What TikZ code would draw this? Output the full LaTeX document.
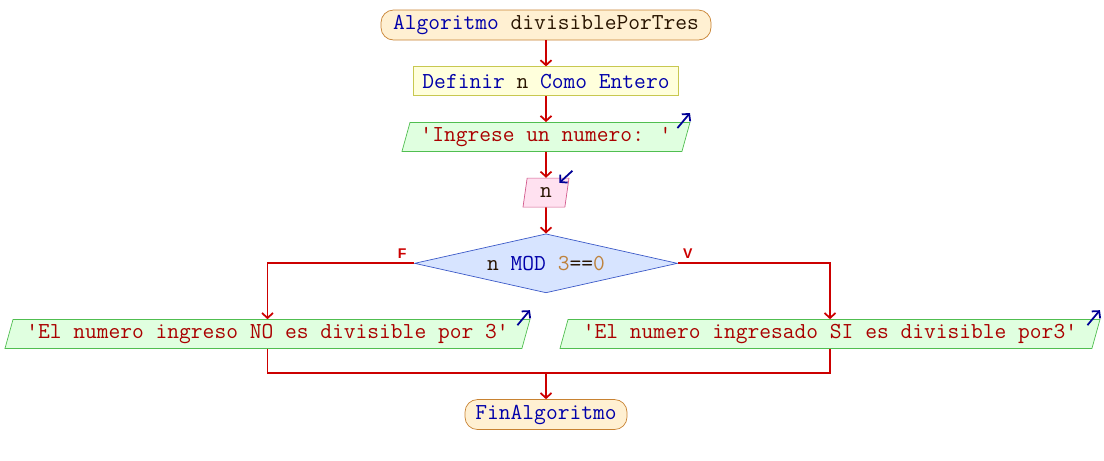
\documentclass[tikz,border=0pt]{standalone}
\usepackage{fontspec}
\newfontfamily\etiqfont{Liberation Sans}
\usetikzlibrary{calc,positioning,shapes,shapes.geometric,arrows.meta}

\definecolor{rojoflujo}{RGB}{204,0,0}
\definecolor{azulflecha}{RGB}{0,0,150}
\definecolor{clave}{RGB}{0,0,170}
\definecolor{cadena}{RGB}{170,0,0}
\definecolor{numero}{RGB}{190,130,60}
\definecolor{ident}{RGB}{40,20,0}
\definecolor{fondoini}{RGB}{255,240,210}
\definecolor{bordeini}{RGB}{200,130,50}
\definecolor{fondodef}{RGB}{255,255,220}
\definecolor{bordedef}{RGB}{200,200,80}
\definecolor{fondosal}{RGB}{224,255,224}
\definecolor{bordesal}{RGB}{80,190,80}
\definecolor{fondoent}{RGB}{255,225,240}
\definecolor{bordeent}{RGB}{210,90,140}
\definecolor{fondodec}{RGB}{215,228,255}
\definecolor{bordedec}{RGB}{60,90,200}

\newcommand{\kw}[1]{\textcolor{clave}{#1}}
\newcommand{\cad}[1]{\textcolor{cadena}{#1}}
\newcommand{\num}[1]{\textcolor{numero}{#1}}

\begin{document}
\begin{tikzpicture}[
  font=\ttfamily\fontsize{13}{15}\selectfont,
  every node/.style={text=ident,inner sep=0pt},
  inicio/.style={draw=bordeini,fill=fondoini,rounded corners=0.25cm,minimum width=6.6cm,minimum height=0.6cm},
  proceso/.style={draw=bordedef,fill=fondodef,minimum width=5.3cm,minimum height=0.58cm},
  salida/.style={draw=bordesal,fill=fondosal,trapezium,trapezium left angle=67.5,trapezium right angle=112.5,
    trapezium stretches body,minimum width=5.76cm,minimum height=0.58cm},
  entrada/.style={draw=bordeent,fill=fondoent,trapezium,trapezium left angle=67.5,trapezium right angle=112.5,
    trapezium stretches body,minimum width=0.92cm,minimum height=0.58cm},
  decision/.style={draw=bordedec,fill=fondodec,diamond,aspect=4.46,minimum width=5.26cm,minimum height=1.18cm},
  etiq/.style={text=rojoflujo,font=\etiqfont\bfseries\fontsize{8}{9}\selectfont},
  flujo/.style={draw=rojoflujo,line width=1pt,-{Straight Barb[length=1mm,width=2.2mm]}},
  linea/.style={draw=rojoflujo,line width=1pt},
  flechaio/.style={draw=azulflecha,line width=1pt,-{Straight Barb[length=1mm,width=2.2mm]}}
  ]

  \useasboundingbox (0,0) rectangle (22.08,-9.2);

  \node[inicio] (alg) at (10.92,-0.5) {\kw{Algoritmo} divisiblePorTres};
  \node[proceso,below=0.52cm of alg] (def) {\kw{Definir} n \kw{Como} \kw{Entero}};
  \node[salida,below=0.52cm of def] (msj) {\cad{'Ingrese un numero: '}};
  \node[entrada,below=0.52cm of msj] (leer) {n};
  \node[decision,below=0.52cm of leer] (cond) {n \kw{MOD} \num{3}==\num{0}};
  \node[salida,minimum width=10.5cm,below=0.52cm of cond,xshift=-5.57cm] (no)
    {\cad{'El numero ingreso NO es divisible por 3'}};
  \node[salida,minimum width=10.8cm,below=0.52cm of cond,xshift=5.68cm] (si)
    {\cad{'El numero ingresado SI es divisible por3'}};
  \node[inicio,minimum width=3.24cm,below=2.12cm of cond] (fin) {\kw{FinAlgoritmo}};
  \coordinate (junta) at ($(fin.north)+(0,0.52)$);

  \node[etiq] (lblF) at ($(cond.west)+(-0.24,0.2)$) {F};
  \node[etiq] (lblV) at ($(cond.east)+(0.2,0.2)$) {V};

  \draw[flujo] (alg) -- (def);
  \draw[flujo] (def) -- (msj);
  \draw[flujo] (msj) -- (leer);
  \draw[flujo] (leer) -- (cond);
  \draw[flujo] (cond.west) -| (no.north);
  \draw[flujo] (cond.east) -| (si.north);
  \draw[linea] (no.south) -- (no.south |- junta) -- (si.south |- junta) -- (si.south);
  \draw[flujo] (junta) -- (fin);

  % flechas de entrada / salida
  \draw[flechaio] ($(msj.top right corner)+(-0.26,-0.12)$) -- ++(0.25,0.3);
  \draw[flechaio] ($(no.top right corner)+(-0.26,-0.12)$) -- ++(0.25,0.3);
  \draw[flechaio] ($(si.top right corner)+(-0.26,-0.12)$) -- ++(0.25,0.3);
  \draw[flechaio] ($(leer.top right corner)+(0.06,0.14)$) -- ++(-0.26,-0.24);

\end{tikzpicture}
\end{document}
